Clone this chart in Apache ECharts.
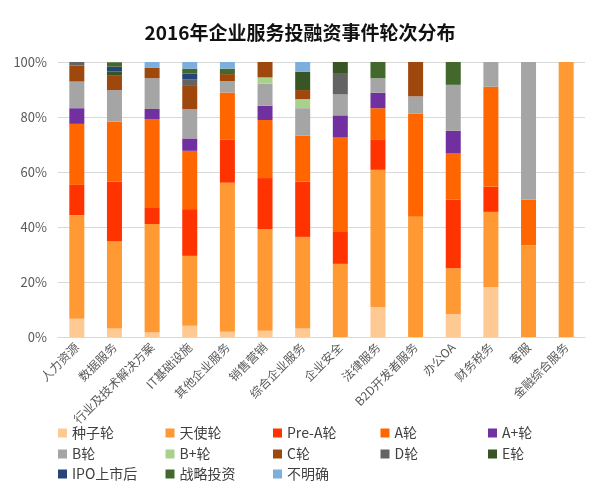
<!DOCTYPE html>
<html>
<head>
<meta charset="utf-8">
<script src="https://cdn.jsdelivr.net/npm/echarts@6/dist/echarts.min.js"></script>
<style>
html,body{margin:0;padding:0;background:#fff;}
#c{width:600px;height:489px;}
</style>
</head>
<body>
<div id="c"></div>
<script>
var categories = ['人力资源','数据服务','行业及技术解决方案','IT基础设施','其他企业服务','销售营销','综合企业服务','企业安全','法律服务','B2D开发者服务','办公OA','财务税务','客服','金融综合服务'];
var yTicks = [0, 20, 40, 60, 80, 100];

var seed     = [6.6, 3.1, 1.6, 4.1, 1.9, 2.3, 3.1, 0, 10.9, 0, 8.3, 18.2, 0, 0];
var angel    = [37.7, 31.7, 39.5, 25.4, 54.2, 36.9, 33.3, 26.6, 49.9, 43.75, 16.7, 27.3, 33.3, 100];
var preA     = [11.0, 21.7, 6.1, 17.0, 15.6, 18.6, 20.1, 11.6, 11.1, 0, 25.0, 9.1, 0, 0];
var roundA   = [22.2, 21.8, 31.9, 21.2, 17.2, 21.1, 16.7, 34.5, 11.3, 37.5, 16.7, 36.4, 16.7, 0];
var roundAp  = [5.7, 0, 3.8, 4.5, 0, 5.2, 0, 7.9, 5.6, 0, 8.3, 0, 0, 0];
var roundB   = [9.7, 11.5, 11.2, 10.7, 4.2, 8.0, 10.0, 7.6, 5.3, 6.25, 16.7, 9.1, 50, 0];
var roundBp  = [0, 0, 0, 0, 0, 2.3, 3.3, 0, 0, 0, 0, 0, 0, 0];
var roundC   = [5.8, 5.2, 3.9, 8.4, 2.5, 5.6, 3.3, 0, 0, 12.5, 0, 0, 0, 0];
var roundD   = [1.3, 0, 0, 2.3, 0, 0, 0, 7.8, 0, 0, 0, 0, 0, 0];
var roundE   = [0, 1.6, 0, 0, 0, 0, 6.6, 4.0, 0, 0, 0, 0, 0, 0];
var ipo      = [0, 1.7, 0, 2.2, 0, 0, 0, 0, 0, 0, 0, 0, 0, 0];
var strategic= [0, 1.6, 0, 1.8, 2.0, 0, 0, 0, 5.9, 0, 8.3, 0, 0, 0];
var unclear  = [0, 0, 2.0, 2.4, 2.4, 0, 3.6, 0, 0, 0, 0, 0, 0, 0];

var seriesNames = ['种子轮','天使轮','Pre-A轮','A轮','A+轮','B轮','B+轮','C轮','D轮','E轮','IPO上市后','战略投资','不明确'];
var seriesData = [seed, angel, preA, roundA, roundAp, roundB, roundBp, roundC, roundD, roundE, ipo, strategic, unclear];
var colors = ['#FFC993','#FF9933','#FF3300','#FF6600','#7030A0','#A5A5A5','#A9D18E','#9E480E','#636363','#375623','#264478','#43682B','#7CAFDD'];

var legendRows = [
  ['种子轮','天使轮','Pre-A轮','A轮','A+轮'],
  ['B轮','B+轮','C轮','D轮','E轮'],
  ['IPO上市后','战略投资','不明确']
];
var legendTop = [425, 446, 466];

var FONT = '"Noto Sans CJK SC", "Noto Sans", sans-serif';

var chart = echarts.init(document.getElementById('c'), null, {renderer: 'canvas'});

var series = seriesNames.map(function (n, i) {
  return {
    name: n,
    type: 'bar',
    stack: 'total',
    barWidth: 15,
    itemStyle: {color: colors[i]},
    data: seriesData[i].map(function (v) { return v === 0 ? '-' : v; })
  };
});

var legends = legendRows.map(function (row, i) {
  return {
    orient: 'horizontal',
    left: 58,
    top: legendTop[i],
    padding: 0,
    itemWidth: 9,
    itemHeight: 9,
    itemGap: 5.5,
    icon: 'rect',
    selectedMode: false,
    data: row,
    textStyle: {fontFamily: FONT, fontSize: 14, color: '#404040', lineHeight: 16, width: 88}
  };
});

chart.setOption({
  animation: false,
  backgroundColor: '#fff',
  color: colors,
  title: {
    text: '2016年企业服务投融资事件轮次分布',
    left: 'center',
    top: 18,
    textStyle: {fontFamily: FONT, fontSize: 19, fontWeight: 'bold', color: '#111'}
  },
  legend: legends,
  grid: {left: 58, right: 15, top: 62, bottom: 152, containLabel: false},
  xAxis: {
    type: 'category',
    data: categories,
    axisLine: {lineStyle: {color: '#D9D9D9'}},
    axisTick: {show: false},
    axisLabel: {
      rotate: 45,
      interval: 0,
      margin: 8,
      fontFamily: FONT,
      fontSize: 12,
      color: '#595959'
    }
  },
  yAxis: {
    type: 'value',
    min: yTicks[0],
    max: yTicks[yTicks.length - 1],
    interval: yTicks[1] - yTicks[0],
    axisLine: {show: false},
    axisTick: {show: false},
    splitLine: {lineStyle: {color: '#D9D9D9'}},
    axisLabel: {
      formatter: '{value}%',
      margin: 11,
      fontFamily: FONT,
      fontSize: 13,
      color: '#595959'
    }
  },
  series: series
});
</script>
</body>
</html>
